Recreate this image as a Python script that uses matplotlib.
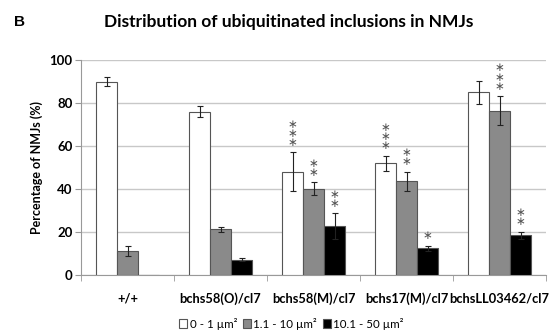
import matplotlib.pyplot as plt
import numpy as np

groups = ['+/+', 'bchs58(O)/cl7', 'bchs58(M)/cl7', 'bchs17(M)/cl7', 'bchsLL03462/cl7']
series = ['0 - 1 µm²', '1.1 - 10 µm²', '10.1 - 50 µm²']
small = [90, 76, 48, 52, 85]
small_err = [2, 2.5, 9, 3.5, 5.5]
medium = [11, 21, 40, 43.5, 76.5]
medium_err = [2.5, 1, 3, 4.5, 6.8]
large = [0, 7, 22.5, 12.3, 18.2]
large_err = [0, 0.5, 6, 1.2, 1.8]
stars_small = ['', '', '***', '***', '']
stars_medium = ['', '', '**', '**', '***']
stars_large = ['', '', '**', '*', '**']

fig = plt.figure(figsize=(5.55, 3.36), dpi=100)
ax = fig.add_axes([0.146, 0.183, 0.838, 0.638])

x = np.arange(len(groups))
w = 0.226
colors = ['white', '#8a8a8a', 'black']
vals = [small, medium, large]
errs = [small_err, medium_err, large_err]
stars = [stars_small, stars_medium, stars_large]

for i in range(3):
    pos = x + (i - 1) * w
    v = np.array(vals[i])
    e = np.array(errs[i])
    ax.bar(pos, v, w, color=colors[i], edgecolor='#555555', linewidth=0.8,
           label=series[i], zorder=3)
    has = e > 0
    ax.errorbar(pos[has], v[has], yerr=e[has], fmt='none', ecolor='#222222',
                elinewidth=0.8, capsize=2.5, capthick=0.8, zorder=4)
    for p, val, er, s in zip(pos, v, e, stars[i]):
        if s:
            ax.text(p, val + er + 1.5, '\n'.join(['∗'] * len(s)), ha='center',
                    va='bottom', fontsize=8.5, color='#555555', linespacing=0.62)

ax.set_xlim(-0.5, len(groups) - 0.5)
ax.set_ylim(0, 100)
ax.set_yticks([0, 20, 40, 60, 80, 100])
ax.yaxis.grid(True, color='#c8c8c8', linewidth=1, zorder=0)
ax.set_axisbelow(True)

ax.set_xticks(x)
ax.set_xticklabels(groups, fontsize=9.3, fontweight='bold', family='Lato')
ax.set_xticks(np.arange(len(groups) + 1) - 0.5, minor=True)
ax.tick_params(axis='x', which='major', length=0, pad=13)
ax.tick_params(axis='x', which='minor', length=4, color='#999999')
ax.tick_params(axis='y', length=4, color='#999999', pad=2)
for lbl in ax.get_yticklabels():
    lbl.set_fontweight('bold')
    lbl.set_fontsize(9.5)
    lbl.set_family('Lato')

for side in ['top', 'right']:
    ax.spines[side].set_visible(False)
ax.spines['left'].set_color('#999999')
ax.spines['bottom'].set_color('#999999')

ax.set_ylabel('Percentage of NMJs (%)', fontsize=9, fontweight='bold',
              family='Lato', labelpad=5)

fig.text(0.52, 0.935, 'Distribution of ubiquitinated inclusions in NMJs',
         ha='center', va='center', fontsize=12.5, fontweight='bold', family='Lato')
fig.text(0.025, 0.935, 'B', ha='left', va='center', fontsize=11,
         fontweight='bold', family='Liberation Sans')

fig.legend(loc='center', bbox_to_anchor=(0.525, 0.037), ncol=3, frameon=False,
           handlelength=0.7, handleheight=0.7, handletextpad=0.2,
           columnspacing=0.5, prop={'family': 'Lato', 'size': 8.3})

fig.savefig('out.png', dpi=100)
